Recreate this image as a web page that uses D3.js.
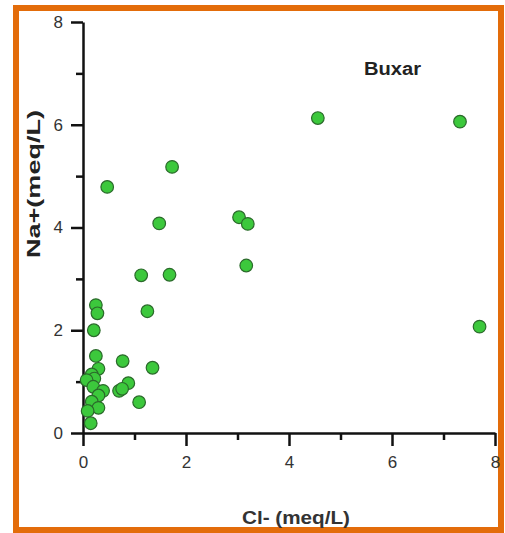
<!DOCTYPE html>
<html>
<head>
<meta charset="utf-8">
<script src="https://cdn.jsdelivr.net/npm/d3@7"></script>
<style>
  body { margin: 0; background: #fff; }
  svg { display: block; font-family: "Liberation Sans", Arial, sans-serif; }
</style>
</head>
<body>
<div id="chart"></div>
<script>
// Cl- and Na+ in meq/L
const clValues = [4.56, 7.32, 1.73, 0.47, 1.48, 3.03, 3.20, 3.17, 1.13, 1.68, 1.25, 0.25, 0.28, 0.21, 7.70,
    0.25, 0.77, 1.35, 0.30, 0.17, 0.22, 0.07, 0.20, 0.39, 0.88, 0.70, 0.76, 0.30, 0.17, 1.09, 0.30, 0.09, 0.15];
const naValues = [6.13, 6.06, 5.18, 4.79, 4.08, 4.20, 4.07, 3.26, 3.07, 3.08, 2.37, 2.49, 2.33, 2.00, 2.07,
    1.50, 1.40, 1.27, 1.25, 1.14, 1.06, 1.03, 0.90, 0.82, 0.97, 0.82, 0.86, 0.73, 0.61, 0.60, 0.49, 0.43, 0.19];
const majorTicks = [0, 2, 4, 6, 8];
const minorTicks = [1, 3, 5, 7];

const W = 505, H = 533;
const svg = d3.select("#chart").append("svg")
    .attr("width", W)
    .attr("height", H);

// orange frame
svg.append("rect")
    .attr("x", 16).attr("y", 8)
    .attr("width", 485).attr("height", 522)
    .attr("fill", "#fff")
    .attr("stroke", "#e36c0a")
    .attr("stroke-width", 6);

const xx = d3.scaleLinear().domain([0, 8]).range([83, 495]);
const yy = d3.scaleLinear().domain([0, 8]).range([433, 22]);

// y axis
svg.append("g")
    .attr("transform", `translate(${xx(0)},0)`)
    .call(d3.axisLeft(yy).tickValues(majorTicks).tickSize(12).tickSizeOuter(0).tickPadding(8).tickFormat(d3.format("d")));
svg.append("g")
    .attr("transform", `translate(${xx(0)},0)`)
    .call(d3.axisLeft(yy).tickValues(minorTicks).tickSize(7).tickFormat(""))
    .select(".domain").remove();

// x axis
svg.append("g")
    .attr("transform", `translate(0,${yy(0)})`)
    .call(d3.axisBottom(xx).tickValues(majorTicks).tickSize(13).tickSizeOuter(0).tickPadding(10).tickFormat(d3.format("d")));
svg.append("g")
    .attr("transform", `translate(0,${yy(0)})`)
    .call(d3.axisBottom(xx).tickValues(minorTicks).tickSize(7).tickFormat(""))
    .select(".domain").remove();

svg.selectAll(".domain, .tick line")
    .attr("stroke", "#111")
    .attr("stroke-width", 2.5);
svg.selectAll(".tick text")
    .attr("fill", "#333")
    .attr("font-size", 17)
    .attr("font-family", "'Liberation Sans', Arial, sans-serif");

// points
const points = clValues.map((c, i) => [c, naValues[i]]);
svg.append("g").selectAll("circle")
    .data(points)
    .join("circle")
    .attr("cx", d => xx(d[0]))
    .attr("cy", d => yy(d[1]))
    .attr("r", 6.3)
    .attr("fill", "#3cc83c")
    .attr("stroke", "#2b6a2b")
    .attr("stroke-width", 1.2);

// titles
svg.append("text")
    .attr("x", 364).attr("y", 75)
    .attr("textLength", 57).attr("lengthAdjust", "spacingAndGlyphs")
    .style("font-size", "18px").style("font-weight", "bold").attr("fill", "#222")
    .text("Buxar");

svg.append("text")
    .attr("x", 242).attr("y", 524)
    .attr("textLength", 108).attr("lengthAdjust", "spacingAndGlyphs")
    .style("font-size", "18px").style("font-weight", "bold").attr("fill", "#333")
    .text("Cl- (meq/L)");

svg.append("text")
    .attr("transform", "translate(40,258) rotate(-90)")
    .attr("x", 0).attr("y", 0)
    .attr("textLength", 148).attr("lengthAdjust", "spacingAndGlyphs")
    .style("font-size", "18px").style("font-weight", "bold").attr("fill", "#222")
    .text("Na+(meq/L)");
</script>
</body>
</html>
